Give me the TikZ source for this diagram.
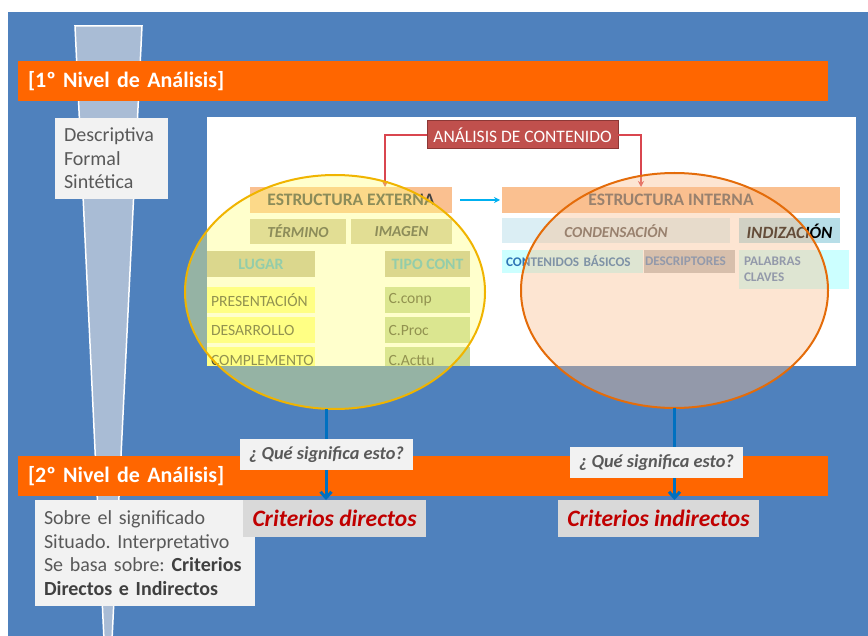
\documentclass[tikz,border=0pt]{standalone}
\usepackage{fontspec}
\setmainfont{Carlito}
\frenchspacing
\usetikzlibrary{arrows.meta,shapes.geometric}
\definecolor{bgblue}{HTML}{4F81BD}
\definecolor{barorange}{HTML}{FF6600}
\definecolor{funnelc}{HTML}{A9BCD5}
\definecolor{lightgray}{HTML}{F2F2F2}
\definecolor{midgray}{HTML}{D9D9D9}
\definecolor{txtgray}{HTML}{595959}
\definecolor{darktxt}{HTML}{404040}
\definecolor{critred}{HTML}{C00000}
\definecolor{analred}{HTML}{C0504D}
\definecolor{analborder}{HTML}{8C3836}
\definecolor{linered}{HTML}{D9464F}
\definecolor{cyanarr}{HTML}{00B0F0}
\definecolor{arrblue}{HTML}{0070C0}
\definecolor{peach}{HTML}{FAC090}
\definecolor{tan}{HTML}{CFC8A2}
\definecolor{tandark}{HTML}{C4BD97}
\definecolor{teal}{HTML}{4BACC6}
\definecolor{yelbox}{HTML}{FFFF88}
\definecolor{olive}{HTML}{C3D69B}
\definecolor{olivetxt}{HTML}{4A4A30}
\definecolor{lblue}{HTML}{DBEEF4}
\definecolor{lblue2}{HTML}{B7DEE8}
\definecolor{lcyan}{HTML}{CCFFFF}
\definecolor{descgray}{HTML}{C0C0C0}
\definecolor{cbblue}{HTML}{2E75B6}
\definecolor{ellyel}{HTML}{F0B400}
\definecolor{ellyelfill}{HTML}{FFFF80}
\definecolor{ellor}{HTML}{E46C0A}
\definecolor{ellorfill}{HTML}{FABF8F}
\begin{document}
\begin{tikzpicture}[x=1pt,y=-1pt,
  every node/.style={inner sep=0pt,outer sep=0pt},
  bar/.style={fill=barorange,minimum height=40pt,text width=790pt,inner xsep=10pt,align=left,
    text=white,font=\bfseries\fontsize{22}{24}\selectfont},
  sidebox/.style={fill=lightgray,text=txtgray,align=left,inner xsep=9pt,
    font=\fontsize{20}{23.5}\selectfont},
  hdrbox/.style={fill=peach,text=darktxt,font=\bfseries\fontsize{17.5}{19}\selectfont,minimum height=26pt},
  subbox/.style={text=darktxt,font=\bfseries\itshape\fontsize{15.3}{17}\selectfont,minimum height=25pt},
  tanbox/.style={fill=tandark,text=teal,font=\bfseries\fontsize{15.8}{17}\selectfont,minimum height=26pt},
  yelitem/.style={fill=yelbox,text=olivetxt,font=\fontsize{15.6}{17}\selectfont,minimum height=26pt,
    text width=100pt,inner xsep=4pt,align=left},
  oliveitem/.style={fill=olive,text=olivetxt,font=\fontsize{15.6}{17}\selectfont,minimum height=26pt,
    text width=77pt,inner xsep=4pt,align=left},
  smallblue/.style={text=cbblue,font=\bfseries\fontsize{13.2}{16}\selectfont,align=left},
  quebox/.style={fill=lightgray,text=txtgray,font=\bfseries\itshape\fontsize{18.3}{20}\selectfont,
    minimum width=173pt,minimum height=31pt},
  critbox/.style={fill=midgray,text=critred,font=\bfseries\itshape\fontsize{23.5}{25}\selectfont,
    minimum height=37pt},
  redconn/.style={draw=linered,line width=1.2pt,-{Stealth[length=6pt,width=6pt]}},
  vconn/.style={draw=arrblue,line width=3pt,-{Straight Barb[length=6pt,width=11pt]}}
]
\useasboundingbox (0,0) rectangle (868,636);
\fill[white] (0,0) rectangle (868,636);
\fill[bgblue] (8,12) rectangle (868,636);
% funnel
\filldraw[fill=funnelc,draw=white,line width=1.5pt] (75,26) -- (142,26) -- (112,640) -- (104,640) -- cycle;
% level 1 bar
\node[bar] (bar1) at (423,81.5) {[1º Nivel de Análisis]};
\node[sidebox,minimum width=113pt,minimum height=81pt,text width=95pt] (desc) at (111.5,158.5)
  {Descriptiva\\Formal\\Sintética};
% white panel
\node[fill=white,minimum width=649pt,minimum height=249pt] (panel) at (531.5,241.5) {};
\begin{scope}
\clip (207,117) rectangle (856,366);
\node[fill=analred,draw=analborder,line width=1pt,minimum width=191pt,minimum height=28pt,
  text=white,font=\fontsize{17.5}{19}\selectfont] (anal) at (522.5,135) {ANÁLISIS DE CONTENIDO};
\node[hdrbox,minimum width=202pt] (ext) at (351,200) {ESTRUCTURA EXTERNA};
\node[hdrbox,minimum width=338pt,text=txtgray] (int) at (671,200) {ESTRUCTURA INTERNA};
\node[subbox,fill=tan,minimum width=96pt] (term) at (298,231.5) {TÉRMINO};
\node[subbox,fill=tan,minimum width=101pt] (imag) at (401.5,231.5) {IMAGEN};
\node[subbox,fill=lblue,minimum width=228pt,text=txtgray] (cond) at (616,231) {CONDENSACIÓN};
\node[subbox,fill=lblue2,minimum width=101pt,text=black,font=\bfseries\itshape\fontsize{17.2}{19}\selectfont] (indiz) at (789.5,231) {INDIZACIÓN};
\node[tanbox,minimum width=108pt] (lugar) at (261,264) {LUGAR};
\node[tanbox,minimum width=85pt] (tipo) at (427.5,264) {TIPO CONT};
\node[yelitem] (pres) at (261,300) {PRESENTACIÓN};
\node[yelitem] (desa) at (261,330.5) {DESARROLLO};
\node[yelitem] (comp) at (261,360) {COMPLEMENTO};
\node[oliveitem] (cconp) at (427,300) {C.conp};
\node[oliveitem] (cproc) at (427,330.5) {C.Proc};
\node[oliveitem] (cact) at (427,360) {C.Acttu};
\node[fill=lcyan,minimum width=141pt,minimum height=23pt,text width=133pt,inner xsep=4pt,smallblue] (cont) at (572.5,261.5) {CONTENIDOS BÁSICOS};
\node[fill=descgray,minimum width=91pt,minimum height=23pt,text width=89pt,inner xsep=1pt,smallblue,text=bgblue] (descr) at (689.5,261.5) {DESCRIPTORES};
\node[fill=lcyan,minimum width=110pt,minimum height=39pt,text width=100pt,inner xsep=5pt,smallblue,text=bgblue] (pal) at (794,269.5) {PALABRAS\\CLAVES};
\end{scope}
% connectors in panel
\draw[redconn] (anal.west) -| ([xshift=135pt]ext.north west);
\draw[redconn] (anal.east) -| ([xshift=139pt]int.north west);
\draw[draw=cyanarr,line width=1.2pt,-{Stealth[length=6pt,width=6pt]}] ([xshift=8pt]ext.east) -- ([xshift=-2pt]int.west);
% ellipses
\node[ellipse,minimum width=300pt,minimum height=234pt,fill=ellyelfill,fill opacity=0.4,draw=ellyel,line width=2pt] (ellY) at (335,292) {};
\node[ellipse,minimum width=307pt,minimum height=235pt,fill=ellorfill,fill opacity=0.4,draw=ellor,line width=2pt] (ellO) at (674.5,290.5) {};
% level 2 bar
\node[bar] (bar2) at (423,476) {[2º Nivel de Análisis]};
\node[sidebox,minimum width=220pt,minimum height=106pt,text width=202pt] (sobre) at (145,553)
  {Sobre el significado\\Situado. Interpretativo\\Se basa sobre: \textcolor{darktxt}{\textbf{Criterios}}\\\textcolor{darktxt}{\textbf{Directos e Indirectos}}};
% criteria boxes
\node[critbox,minimum width=183pt] (critD) at (334.5,518.5) {Criterios directos};
\node[critbox,minimum width=201pt] (critI) at (658.5,518.5) {Criterios indirectos};
\coordinate (yBot) at (326,409);
\draw[vconn] (yBot) -- (yBot |- critD.north);
\draw[vconn] (ellO.south) -- (ellO.south |- critI.north);
\node[quebox] (que1) at (326.5,454.5) {¿ Qué significa esto?};
\node[quebox] (que2) at (656.5,462.5) {¿ Qué significa esto?};
\end{tikzpicture}
\end{document}
